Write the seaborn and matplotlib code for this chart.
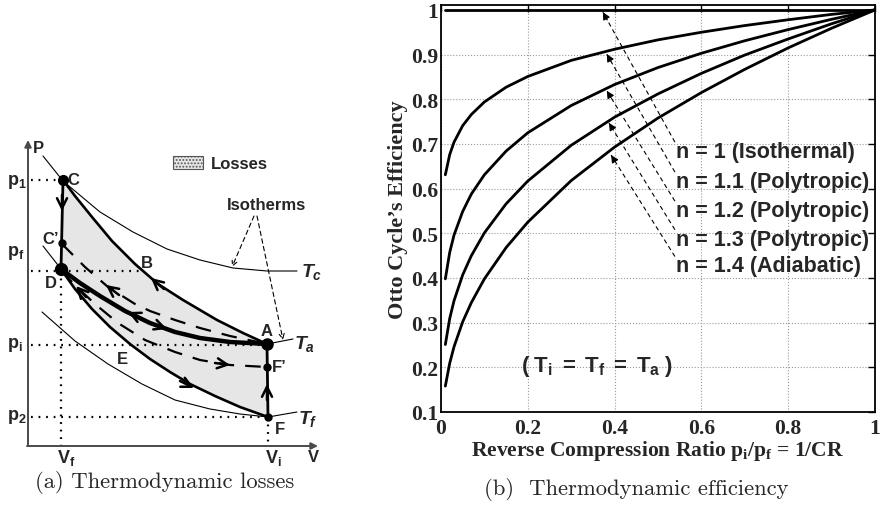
import numpy as np
import pandas as pd
import matplotlib
matplotlib.use("Agg")
import matplotlib.pyplot as plt
from matplotlib.patches import Patch
import seaborn as sns

# ---------------- data: panel (b) ----------------
ratio = [0.01, 0.02, 0.03, 0.05, 0.07, 0.1, 0.15, 0.2, 0.3, 0.4, 0.5, 0.6, 0.7, 0.8, 0.9, 1.0]
eff_n10 = [1.0, 1.0, 1.0, 1.0, 1.0, 1.0, 1.0, 1.0, 1.0, 1.0, 1.0, 1.0, 1.0, 1.0, 1.0, 1.0]
eff_n11 = [0.631, 0.676, 0.704, 0.741, 0.766, 0.794, 0.827, 0.851, 0.887, 0.912, 0.933, 0.950, 0.965, 0.978, 0.990, 1.0]
eff_n12 = [0.398, 0.457, 0.496, 0.549, 0.588, 0.631, 0.684, 0.725, 0.786, 0.833, 0.871, 0.903, 0.931, 0.956, 0.979, 1.0]
eff_n13 = [0.251, 0.309, 0.349, 0.407, 0.450, 0.501, 0.566, 0.617, 0.697, 0.760, 0.812, 0.858, 0.899, 0.935, 0.969, 1.0]
eff_n14 = [0.158, 0.209, 0.246, 0.302, 0.345, 0.398, 0.468, 0.525, 0.618, 0.693, 0.758, 0.815, 0.867, 0.915, 0.959, 1.0]
series_names = ["n = 1 (Isothermal)", "n = 1.1 (Polytropic)", "n = 1.2 (Polytropic)",
                "n = 1.3 (Polytropic)", "n = 1.4 (Adiabatic)"]
x_ticks = [0, 0.2, 0.4, 0.6, 0.8, 1]
x_tick_labels = ["0", "0.2", "0.4", "0.6", "0.8", "1"]
y_ticks = [0.1, 0.2, 0.3, 0.4, 0.5, 0.6, 0.7, 0.8, 0.9, 1.0]
y_tick_labels = ["0.1", "0.2", "0.3", "0.4", "0.5", "0.6", "0.7", "0.8", "0.9", "1"]
label_y = [0.684, 0.617, 0.552, 0.487, 0.427]
arrow_tip_x = [0.373, 0.382, 0.382, 0.387, 0.392]
arrow_tip_y = [0.995, 0.901, 0.819, 0.747, 0.675]
arrow_tail_x = [0.539, 0.539, 0.539, 0.539, 0.539]
arrow_tail_y = [0.704, 0.637, 0.572, 0.508, 0.448]

# ---------------- data: panel (a) schematic (diagram units) ----------------
tc_x = [43, 63, 100, 133, 167, 200, 233, 267, 297]
tc_y = [157, 182, 213, 233, 250, 261, 269, 272, 272]
ta_left_x = [43, 61]
ta_left_y = [247, 270]
ta_right_x = [267, 293]
ta_right_y = [345, 340]
tf_x = [42, 75, 108, 142, 175, 210, 240, 268, 297]
tf_y = [313, 342, 365, 385, 401, 410, 415, 418, 413]
up_x = [63, 75, 92, 112, 135, 158, 183, 217, 243, 267]
up_y = [181, 197, 218, 242, 265, 285, 301, 321, 334, 345]
low_x = [61, 75, 92, 110, 130, 150, 170, 190, 215, 240, 268]
low_y = [270, 290, 310, 328, 345, 360, 373, 385, 397, 408, 418]
iso_x = [61, 80, 100, 125, 150, 175, 200, 230, 267]
iso_y = [270, 284, 297, 312, 324, 333, 339, 343, 345]
dup_x = [62, 85, 108, 135, 150, 175, 200, 230, 267]
dup_y = [245, 268, 288, 305, 312, 321, 329, 337, 345]
dlow_x = [61, 80, 95, 118, 145, 175, 200, 230, 267]
dlow_y = [272, 291, 305, 324, 341, 353, 361, 366, 368]
pt_names = ["C", "C'", "D", "A", "F'", "F"]
pt_x = [63, 62, 61, 267, 267, 268]
pt_y = [181, 244, 270, 345, 368, 418]
pt_size = [7, 5, 8.5, 8, 5, 5]
axis_x0, axis_y0 = 28, 447
p_levels = [181, 272, 346, 418]
p_ends = [63, 142, 267, 268]
p_labels = [r"$\mathsf{p_1}$", r"$\mathsf{p_f}$", r"$\mathsf{p_i}$", r"$\mathsf{p_2}$"]
p_label_y = [182, 253, 345, 417]

# ---------------- style ----------------
sns.set_theme(style="white")
plt.rcParams["font.family"] = ["Liberation Sans", "DejaVu Sans"]
plt.rcParams["mathtext.fontset"] = "custom"
plt.rcParams["mathtext.rm"] = "Liberation Serif:bold"
plt.rcParams["mathtext.sf"] = "Liberation Sans:bold"
plt.rcParams["mathtext.it"] = "Liberation Sans:bold:italic"
plt.rcParams["mathtext.bf"] = "Liberation Sans:bold"
plt.rcParams["hatch.color"] = "#707070"
plt.rcParams["hatch.linewidth"] = 0.9

W, H = 883, 506
fig = plt.figure(figsize=(W / 100, H / 100), dpi=100)
fig.patch.set_facecolor("white")

# ================= panel (b) =================
ax = fig.add_axes([441 / W, 1 - 413 / H, 434 / W, 407 / H])
rows = []
for name, vals in zip(series_names, [eff_n10, eff_n11, eff_n12, eff_n13, eff_n14]):
    for r, v in zip(ratio, vals):
        rows.append({"ratio": r, "eff": v, "series": name})
df = pd.DataFrame(rows)
sns.lineplot(data=df, x="ratio", y="eff", hue="series", palette=["black"] * 5,
             legend=False, linewidth=2.0, ax=ax)
ax.set_xlim(0, 1)
ax.set_ylim(0.1, 1.011)
ax.set_xticks(x_ticks)
ax.set_xticklabels(x_tick_labels)
ax.set_yticks(y_ticks)
ax.set_yticklabels(y_tick_labels)
serif_bold = dict(family="Liberation Serif", weight="bold")
for t in ax.get_xticklabels() + ax.get_yticklabels():
    t.set_fontfamily("Liberation Serif")
    t.set_fontweight("bold")
    t.set_fontsize(15.5)
ax.tick_params(direction="in", top=True, right=True, length=5, width=1, color="black")
ax.tick_params(axis="x", pad=4)
ax.tick_params(axis="y", pad=2)
ax.grid(True, linestyle=":", color="#9a9a9a", linewidth=0.8)
for s in ax.spines.values():
    s.set_color("black")
    s.set_linewidth(1.3)
ax.set_xlabel(r"Reverse Compression Ratio $\mathrm{p_i/p_f}$ = 1/CR", fontsize=15.5,
              labelpad=0, **serif_bold)
ax.set_ylabel("Otto Cycle\u2019s Efficiency", fontsize=16, labelpad=2, **serif_bold)

for name, ly, tx, ty, hx, hy in zip(series_names, label_y, arrow_tail_x, arrow_tail_y,
                                    arrow_tip_x, arrow_tip_y):
    ax.text(0.541, ly, name, fontsize=15.5, fontweight="bold", ha="left", va="center")
    ax.plot([tx, hx], [ty, hy], color="black", lw=0.8, ls=(0, (4, 3)))
    ax.annotate("", xy=(hx, hy), xytext=(hx + (tx - hx) * 0.06, hy + (ty - hy) * 0.06),
                arrowprops=dict(arrowstyle="-|>", color="black", lw=0.8,
                                mutation_scale=11, shrinkA=0, shrinkB=0))
ax.text(0.359, 0.205, r"$\mathsf{(\;T_i\;=\;T_f\;=\;T_a\;)}$", fontsize=16,
        ha="center", va="center")

fig.text(636 / W, 1 - 490 / H, "(b)  Thermodynamic efficiency", family="cmr10",
         fontsize=16.3, ha="center", va="center")

# ================= panel (a) =================
axa = fig.add_axes([0, 0, 370 / W, 1])
axa.set_xlim(0, 370)
axa.set_ylim(H, 0)
axa.axis("off")

# shaded losses region C -> A -> F -> D -> C
fill_x = list(up_x) + list(low_x[::-1])
fill_y = list(up_y) + list(low_y[::-1])
axa.fill(fill_x, fill_y, facecolor="#e6e6e6", edgecolor="none", hatch=".....", zorder=1)

# axes
axa.annotate("", xy=(axis_x0, 141), xytext=(axis_x0, axis_y0),
             arrowprops=dict(arrowstyle="-|>", color="#4a4a4a", lw=1.4, mutation_scale=10,
                             shrinkA=0, shrinkB=0), zorder=3)
axa.annotate("", xy=(318, axis_y0), xytext=(axis_x0 - 1, axis_y0),
             arrowprops=dict(arrowstyle="-|>", color="#4a4a4a", lw=1.4, mutation_scale=10,
                             shrinkA=0, shrinkB=0), zorder=3)

# dotted guides
dot = dict(color="black", lw=1.6, ls=(0, (0.8, 2.6)), zorder=2)
for yv, xe in zip(p_levels, p_ends):
    axa.plot([axis_x0 + 3, xe], [yv, yv], **dot)
axa.plot([pt_x[2], pt_x[2]], [p_levels[1], axis_y0], **dot)
axa.plot([pt_x[5], pt_x[5]], [pt_y[5], axis_y0], **dot)

# isotherms (thin)
thin = dict(color="black", lw=0.8, zorder=3)
axa.plot(tc_x, tc_y, **thin)
axa.plot(ta_left_x, ta_left_y, **thin)
axa.plot(ta_right_x, ta_right_y, **thin)
axa.plot(tf_x, tf_y, **thin)

# process curves
axa.plot(up_x, up_y, color="black", lw=1.9, zorder=4)
axa.plot(low_x, low_y, color="black", lw=1.9, zorder=4)
axa.plot(iso_x, iso_y, color="black", lw=3.2, zorder=4, solid_capstyle="round")
axa.plot(dup_x, dup_y, color="black", lw=1.6, ls=(0, (7, 5)), zorder=4)
axa.plot(dlow_x, dlow_y, color="black", lw=1.6, ls=(0, (7, 5)), zorder=4)
axa.plot([pt_x[0], pt_x[2]], [pt_y[0], pt_y[2]], color="black", lw=2.0, zorder=4)
axa.plot([pt_x[3], pt_x[5]], [pt_y[3], pt_y[5]], color="black", lw=2.0, zorder=4)

# state points
for nm, px, py, ms in zip(pt_names, pt_x, pt_y, pt_size):
    axa.plot(px, py, "o", color="black", ms=ms, zorder=6)

# arrowheads along the processes
chev = dict(arrowstyle="->", color="black", lw=1.8, mutation_scale=18, shrinkA=0, shrinkB=0)
heads = [((62, 212), (62, 196)), ((267, 385), (267, 401)), ((151, 279), (164, 290)),
         ((106, 286), (119, 296)), ((128, 313), (141, 319)), ((167, 330), (153, 325)),
         ((194, 389), (180, 382)), ((230, 366), (215, 364)), ((76, 287), (86, 298))]
for tip, tail in heads:
    axa.annotate("", xy=tip, xytext=tail, arrowprops=chev, zorder=7)

# isotherm pointer arrows
thin_arrow = dict(arrowstyle="->", color="black", lw=0.8, ls=(0, (4, 3)),
                  mutation_scale=9, shrinkA=0, shrinkB=0)
axa.annotate("", xy=(232, 268), xytext=(254, 217), arrowprops=thin_arrow)
axa.annotate("", xy=(283, 341), xytext=(257, 217), arrowprops=thin_arrow)

# texts
lbl = dict(fontsize=12, fontweight="bold", va="center")
axa.text(33, 148, "P", ha="left", **lbl)
axa.text(313, 458, "V", ha="center", **lbl)
axa.text(67, 180, "C", ha="left", **lbl)
axa.text(59, 240, "C\u2019", ha="right", **lbl)
axa.text(51, 284, "D", ha="center", **lbl)
axa.text(147, 264, "B", ha="center", **lbl)
axa.text(122, 360, "E", ha="center", **lbl)
axa.text(267, 331, "A", ha="center", **lbl)
axa.text(272, 368, "F\u2019", ha="left", **lbl)
axa.text(280, 430, "F", ha="center", **lbl)
axa.text(266, 206, "Isotherms", ha="center", **lbl)
for lab, yy in zip(p_labels, p_label_y):
    axa.text(7, yy, lab, ha="left", va="center", fontsize=13)
axa.text(66, 458, r"$\mathsf{V_f}$", ha="center", va="center", fontsize=13)
axa.text(273, 458, r"$\mathsf{V_i}$", ha="center", va="center", fontsize=13)
axa.text(301, 272, r"$\mathit{T_c}$", ha="left", va="center", fontsize=14)
axa.text(294, 344, r"$\mathit{T_a}$", ha="left", va="center", fontsize=14)
axa.text(298, 419, r"$\mathit{T_f}$", ha="left", va="center", fontsize=14)

leg = axa.legend(handles=[Patch(facecolor="#e6e6e6", edgecolor="#555555", hatch=".....",
                                linewidth=0.8)],
                 labels=["Losses"], loc="upper left", bbox_to_anchor=(173 / 370, 1 - 157 / H),
                 frameon=False, borderpad=0, borderaxespad=0, handlelength=1.8,
                 handleheight=0.85, handletextpad=0.45,
                 prop=dict(family="Liberation Sans", weight="bold", size=12))

fig.text(165 / W, 1 - 483 / H, "(a) Thermodynamic losses", family="cmr10",
         fontsize=16.3, ha="center", va="center")

fig.savefig("out.png", dpi=100, facecolor="white")
